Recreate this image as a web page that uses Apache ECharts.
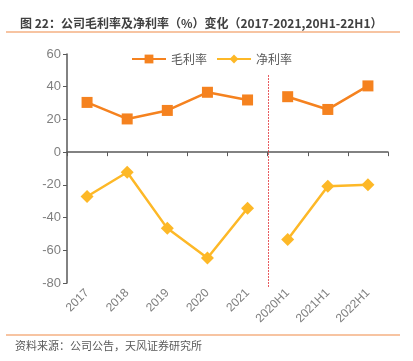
<!DOCTYPE html>
<html><head><meta charset="utf-8">
<script src="https://cdn.jsdelivr.net/npm/echarts@6/dist/echarts.min.js"></script>
<style>html,body{margin:0;padding:0;background:#fff}#c{width:413px;height:361px}</style>
</head><body><div id="c"></div>
<script>
const categories = ['2017','2018','2019','2020','2021','2020H1','2021H1','2022H1'];
const grossMargin = [30.4, 20.3, 25.5, 36.6, 31.9, 33.9, 26.1, 40.5];
const netMargin = [-27.1, -12.3, -46.6, -64.7, -34.3, -53.4, -20.9, -19.9];
const yTicks = {min: -80, max: 60, interval: 20};
const splitIndex = 5; // annual vs half-year boundary

function part(arr, from, to) {
  return arr.map((v, i) => (i >= from && i < to) ? v : '-');
}
const GC = '#F5821F', NC = '#FDB827';
const chart = echarts.init(document.getElementById('c'));
const lineSeries = (name, data, color, symbol, size) => ({
  name, type: 'line', data, symbol, symbolSize: size,
  lineStyle: {color, width: 2.5}, itemStyle: {color}, z: 3, connectNulls: false
});
const baseGraphic = [
  {type: 'line', shape: {x1: 6, y1: 32, x2: 400, y2: 32}, style: {stroke: '#F4B183', lineWidth: 1.5}},
  {type: 'line', shape: {x1: 6, y1: 335, x2: 400, y2: 335}, style: {stroke: '#F4B183', lineWidth: 1.5}},
  {type: 'text', left: 15, top: 340, style: {text: '资料来源：公司公告，天风证券研究所', fontSize: 11, fill: '#595959', fontFamily: 'Noto Sans CJK SC'}}
];
chart.setOption({
  animation: false,
  title: {
    text: '图 22：公司毛利率及净利率（%）变化（2017-2021,20H1-22H1）',
    left: 15, top: 12,
    textStyle: {fontSize: 12, fontWeight: 'bold', color: '#404040', fontFamily: 'Noto Sans CJK SC'}
  },
  legend: {
    top: 48, left: 126, itemGap: 9, itemWidth: 34, itemHeight: 11,
    textStyle: {fontSize: 12, color: '#595959', fontFamily: 'Noto Sans CJK SC'},
    data: ['毛利率', '净利率']
  },
  graphic: baseGraphic,
  grid: {left: 67, right: 25, top: 54, bottom: 78},
  xAxis: [{
    type: 'category', data: categories, boundaryGap: true,
    axisLine: {onZero: true, lineStyle: {color: '#595959', width: 1.5}},
    axisTick: {show: true, inside: false, length: 4, lineStyle: {color: '#595959'}},
    axisLabel: {rotate: 45, color: '#7f7f7f', fontSize: 12, margin: 8, interval: 0, fontFamily: 'Liberation Sans'},
    splitLine: {show: false}
  }, {
    type: 'value', min: 0, max: categories.length, show: false, position: 'top'
  }],
  yAxis: {
    type: 'value', min: yTicks.min, max: yTicks.max, interval: yTicks.interval,
    axisLine: {show: true, lineStyle: {color: '#595959', width: 1.5}},
    axisTick: {show: true, length: 4, lineStyle: {color: '#595959'}},
    axisLabel: {color: '#7f7f7f', fontSize: 13, margin: 6, fontFamily: 'Liberation Sans'},
    splitLine: {show: false}
  },
  series: [
    lineSeries('毛利率', part(grossMargin, 0, splitIndex), GC, 'rect', 11),
    lineSeries('毛利率', part(grossMargin, splitIndex, categories.length), GC, 'rect', 11),
    lineSeries('净利率', part(netMargin, 0, splitIndex), NC, 'diamond', 13),
    lineSeries('净利率', part(netMargin, splitIndex, categories.length), NC, 'diamond', 13)
  ]
});
// dotted divider at the annual / half-year boundary, positioned via the axis scales
const px = chart.convertToPixel({xAxisIndex: 1}, splitIndex);
const yTop = chart.convertToPixel({yAxisIndex: 0}, 47);
const yBot = chart.convertToPixel({yAxisIndex: 0}, -83);
chart.setOption({
  graphic: baseGraphic.concat([{
    type: 'line', z: 10, silent: true,
    shape: {x1: Math.round(px) + 0.5, y1: yTop, x2: Math.round(px) + 0.5, y2: yBot},
    style: {stroke: '#E0262B', lineWidth: 1, lineDash: [1.5, 1.5]}
  }])
});
</script></body></html>
